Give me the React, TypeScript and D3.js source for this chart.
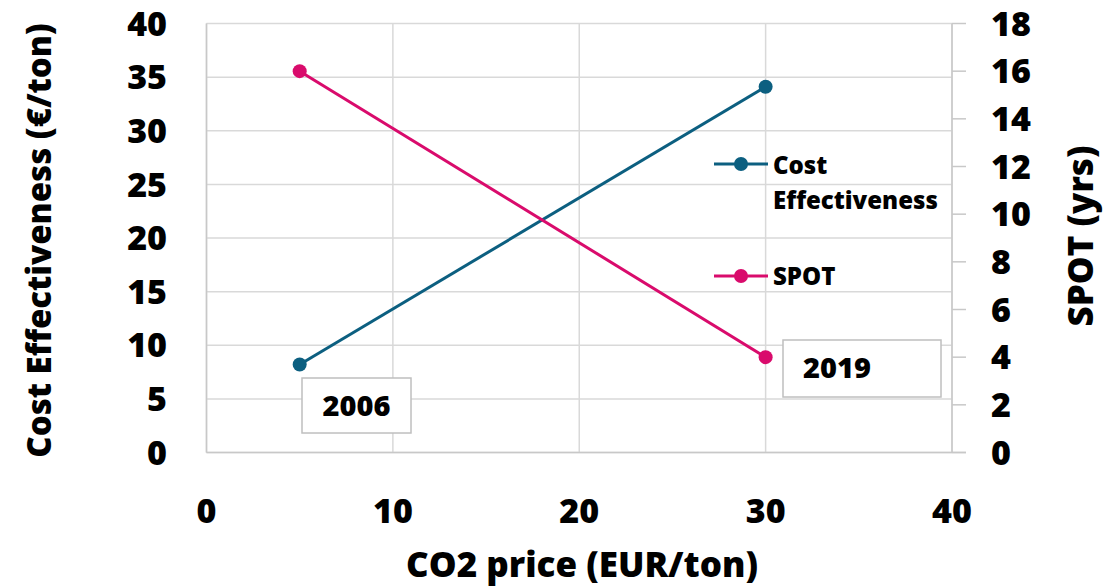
import React from 'react'
import * as d3 from 'd3'

// data
const co2Price = [5, 30]
const costEffectiveness = [8.2, 34.1]
const spot = [16, 4]
const yearLabels = ['2006', '2019']
const xTicks = [0, 10, 20, 30, 40]
const leftTicks = [0, 5, 10, 15, 20, 25, 30, 35, 40]
const rightTicks = [0, 2, 4, 6, 8, 10, 12, 14, 16, 18]

const W = 1109
const H = 586
const FONT = '"Open Sans", "Noto Sans", sans-serif'
const CE_COLOR = '#0c5f80'
const SPOT_COLOR = '#d90b6c'
const GRID = '#d9d9d9'

export default function App() {
  const margin = { top: 23.5, right: 157, bottom: 133.5, left: 206.5 }
  const x = d3.scaleLinear().domain([0, 40]).range([margin.left, W - margin.right])
  const yL = d3.scaleLinear().domain([0, 40]).range([H - margin.bottom, margin.top])
  const yR = d3.scaleLinear().domain([0, 18]).range([H - margin.bottom, margin.top])

  const ceLine = d3.line<number>().x((_, i) => x(co2Price[i])).y(d => yL(d))
  const spotLine = d3.line<number>().x((_, i) => x(co2Price[i])).y(d => yR(d))

  const x0 = x(0), x1 = x(40), y0 = yL(0), y1 = yL(40)

  return (
    <svg width={W} height={H} style={{ position: 'absolute', left: 0, top: 0, background: '#fff' }} fontFamily={FONT} fontWeight={800}>
      {/* grid */}
      {leftTicks.map(t => (
        <line key={'h' + t} x1={x0} x2={x1} y1={yL(t)} y2={yL(t)} stroke={GRID} strokeWidth={1.5} />
      ))}
      {xTicks.map(t => (
        <line key={'v' + t} x1={x(t)} x2={x(t)} y1={y1} y2={y0} stroke={GRID} strokeWidth={1.5} />
      ))}
      {/* axis lines */}
      <line x1={x0} x2={x1 + 14} y1={y0} y2={y0} stroke="#c8c8c8" strokeWidth={1.5} />
      <line x1={x0} x2={x0} y1={y1} y2={y0} stroke="#c8c8c8" strokeWidth={1.5} />
      <line x1={x1} x2={x1} y1={y1} y2={y0} stroke="#c8c8c8" strokeWidth={1.5} />
      {rightTicks.map(t => (
        <line key={'rt' + t} x1={x1} x2={x1 + 14} y1={yR(t)} y2={yR(t)} stroke="#c8c8c8" strokeWidth={1.5} />
      ))}

      {/* tick labels */}
      {leftTicks.map(t => (
        <text key={'lt' + t} x={167} y={yL(t)} dy="0.36em" textAnchor="end" fontSize={34}>{t}</text>
      ))}
      {rightTicks.map(t => (
        <text key={'rl' + t} x={991} y={yR(t)} dy="0.36em" textAnchor="start" fontSize={34}>{t}</text>
      ))}
      {xTicks.map(t => (
        <text key={'xl' + t} x={x(t)} y={523} textAnchor="middle" fontSize={34}>{t}</text>
      ))}

      {/* axis titles */}
      <text transform={`translate(51,${240.5}) rotate(-90)`} textAnchor="middle" fontSize={33}>Cost Effectiveness (€/ton)</text>
      <text transform={`translate(1093,236) rotate(-90)`} textAnchor="middle" fontSize={35}>SPOT (yrs)</text>
      <text x={582} y={577} textAnchor="middle" fontSize={35}>CO2 price (EUR/ton)</text>

      {/* series */}
      <path d={ceLine(costEffectiveness) ?? ''} fill="none" stroke={CE_COLOR} strokeWidth={3} />
      {costEffectiveness.map((v, i) => (
        <circle key={'ce' + i} cx={x(co2Price[i])} cy={yL(v)} r={7} fill={CE_COLOR} />
      ))}
      <path d={spotLine(spot) ?? ''} fill="none" stroke={SPOT_COLOR} strokeWidth={3} />
      {spot.map((v, i) => (
        <circle key={'sp' + i} cx={x(co2Price[i])} cy={yR(v)} r={7} fill={SPOT_COLOR} />
      ))}

      {/* year labels */}
      <rect x={302} y={378} width={109} height={55} fill="#fff" stroke="#bfbfbf" strokeWidth={1.5} />
      <text x={356.5} y={416} textAnchor="middle" fontSize={29}>{yearLabels[0]}</text>
      <rect x={783} y={340} width={158} height={57} fill="#fff" stroke="#bfbfbf" strokeWidth={1.5} />
      <text x={803} y={378} textAnchor="start" fontSize={29}>{yearLabels[1]}</text>

      {/* legend */}
      <line x1={714} x2={768} y1={164} y2={164} stroke={CE_COLOR} strokeWidth={3} />
      <circle cx={741} cy={164} r={7} fill={CE_COLOR} />
      <text x={773} y={174} fontSize={24}>Cost</text>
      <text x={773} y={209} fontSize={24}>Effectiveness</text>
      <line x1={714} x2={768} y1={276} y2={276} stroke={SPOT_COLOR} strokeWidth={3} />
      <circle cx={741} cy={276} r={7} fill={SPOT_COLOR} />
      <text x={773} y={285} fontSize={24}>SPOT</text>
    </svg>
  )
}
